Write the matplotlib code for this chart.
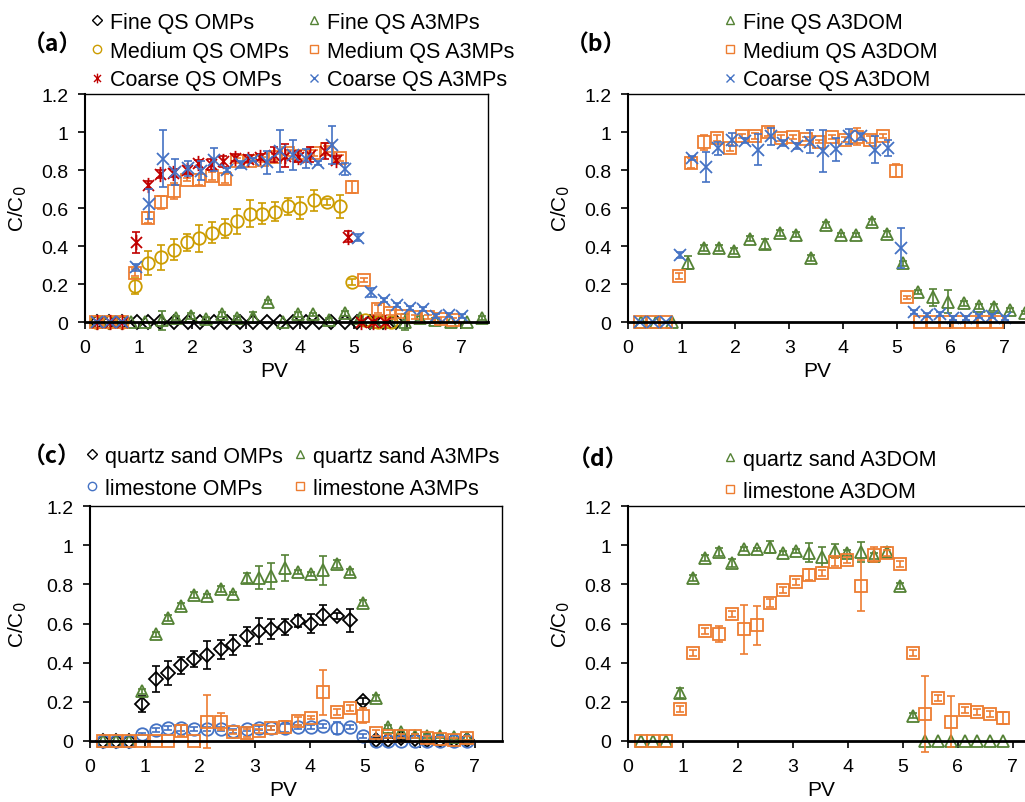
import numpy as np
import matplotlib
matplotlib.use("Agg")
import matplotlib.pyplot as plt
from matplotlib.path import Path
from matplotlib.lines import Line2D

plt.rcParams['font.family'] = ['Liberation Sans', 'DejaVu Sans']

# ---------------- panel (a) ----------------
fine_omps_x = [0.22, 0.45, 0.68, 0.96, 1.18, 1.40, 1.66, 1.92, 2.14, 2.40, 2.64, 2.88,
               3.12, 3.38, 3.62, 3.88, 4.11, 4.35, 4.58, 4.83, 5.07, 5.31, 5.55, 5.79]
fine_omps_y = [0, 0, 0, 0, 0, 0, 0, 0, 0, 0, 0, 0, 0, 0, 0, 0, 0, 0, 0, 0, 0, 0, 0, 0]
fine_omps_e = [0, 0, 0, 0, 0, 0, 0, 0, 0, 0, 0, 0, 0, 0, 0, 0, 0, 0, 0, 0, 0, 0, 0, 0]

fine_a3mps_x = [0.28, 0.56, 0.85, 1.12, 1.43, 1.70, 1.98, 2.26, 2.55, 2.83, 3.12, 3.41, 3.68,
                3.97, 4.25, 4.55, 4.83, 5.11, 5.39, 5.67, 5.95, 6.23, 6.51, 6.82, 7.10, 7.38]
fine_a3mps_y = [0, 0, 0, 0, 0.01, 0.02, 0.03, 0.015, 0.04, 0.02, 0.025, 0.105, 0.0,
                0.04, 0.04, 0.01, 0.045, 0.02, 0, 0, 0, 0.02, 0.01, 0, 0, 0.02]
fine_a3mps_e = [0, 0, 0, 0, 0.05, 0.01, 0.015, 0.01, 0.015, 0.01, 0.03, 0.01, 0,
                0.015, 0.01, 0.01, 0.015, 0.01, 0, 0, 0.04, 0.01, 0.01, 0, 0, 0.01]

medium_omps_x = [0.21, 0.45, 0.69, 0.93, 1.17, 1.41, 1.65, 1.89, 2.13, 2.37, 2.60, 2.83,
                 3.07, 3.30, 3.54, 3.78, 4.01, 4.26, 4.50, 4.74, 4.97, 5.21, 5.45, 5.69]
medium_omps_y = [0, 0, 0, 0.19, 0.31, 0.34, 0.38, 0.42, 0.44, 0.47, 0.49, 0.53,
                 0.57, 0.57, 0.58, 0.61, 0.60, 0.64, 0.63, 0.61, 0.21, 0.01, 0, 0]
medium_omps_e = [0, 0, 0, 0.04, 0.065, 0.065, 0.055, 0.045, 0.07, 0.055, 0.05, 0.065,
                 0.07, 0.055, 0.05, 0.045, 0.06, 0.055, 0.015, 0.06, 0.015, 0, 0, 0]

medium_a3mps_x = [0.21, 0.45, 0.69, 0.93, 1.17, 1.41, 1.65, 1.89, 2.13, 2.37, 2.60, 2.83, 3.07,
                  3.30, 3.54, 3.78, 4.01, 4.26, 4.50, 4.74, 4.97, 5.20, 5.45, 5.67, 5.89,
                  6.15, 6.39, 6.62, 6.85]
medium_a3mps_y = [0, 0, 0, 0.26, 0.55, 0.63, 0.69, 0.75, 0.75, 0.77, 0.755, 0.85, 0.85,
                  0.855, 0.87, 0.89, 0.875, 0.89, 0.91, 0.865, 0.71, 0.22, 0.07, 0.05, 0.03,
                  0.025, 0.025, 0.016, 0.012]
medium_a3mps_e = [0, 0, 0, 0.02, 0.03, 0.035, 0.04, 0.01, 0.03, 0.02, 0.025, 0.015, 0.015,
                  0.015, 0.015, 0.015, 0.015, 0.015, 0.015, 0.015, 0.03, 0.01, 0.02, 0.015, 0.01,
                  0.01, 0.01, 0.01, 0.01]

coarse_omps_x = [0.22, 0.46, 0.69, 0.95, 1.17, 1.40, 1.64, 1.89, 2.11, 2.34, 2.57, 2.79,
                 3.04, 3.26, 3.52, 3.73, 3.96, 4.19, 4.46, 4.67, 4.89, 5.14, 5.36, 5.58]
coarse_omps_y = [0, 0, 0, 0.42, 0.72, 0.78, 0.785, 0.80, 0.835, 0.83, 0.845, 0.865,
                 0.86, 0.87, 0.88, 0.875, 0.87, 0.88, 0.90, 0.855, 0.45, 0, 0, 0]
coarse_omps_e = [0, 0, 0, 0.055, 0.02, 0.02, 0.02, 0.02, 0.02, 0.03, 0.03, 0.02,
                 0.02, 0.015, 0.04, 0.06, 0.03, 0.04, 0.04, 0.02, 0.03, 0, 0, 0]

coarse_a3mps_x = [0.22, 0.46, 0.69, 0.95, 1.20, 1.45, 1.68, 1.92, 2.15, 2.41, 2.65, 2.90, 3.13,
                  3.38, 3.63, 3.88, 4.11, 4.34, 4.59, 4.84, 5.08, 5.32, 5.56, 5.81, 6.04,
                  6.29, 6.53, 6.78, 7.01]
coarse_a3mps_y = [0, 0, 0, 0.287, 0.62, 0.86, 0.79, 0.81, 0.795, 0.855, 0.80, 0.83, 0.855,
                  0.84, 0.90, 0.88, 0.86, 0.835, 0.93, 0.805, 0.444, 0.156, 0.117, 0.09, 0.072,
                  0.068, 0.033, 0.037, 0.03]
coarse_a3mps_e = [0, 0, 0, 0.02, 0.08, 0.15, 0.07, 0.04, 0.05, 0.06, 0.01, 0.02, 0.01,
                  0.06, 0.11, 0.08, 0.05, 0.01, 0.10, 0.03, 0.02, 0.025, 0.01, 0.01, 0.01,
                  0.01, 0.01, 0.01, 0.01]

# ---------------- panel (b) ----------------
fine_a3dom_x = [0.25, 0.53, 0.81, 1.12, 1.42, 1.70, 1.98, 2.27, 2.55, 2.83, 3.12, 3.41, 3.69,
                3.97, 4.25, 4.54, 4.82, 5.11, 5.40, 5.68, 5.96, 6.25, 6.53, 6.82, 7.11, 7.38]
fine_a3dom_y = [0, 0, 0, 0.313, 0.39, 0.39, 0.374, 0.439, 0.41, 0.467, 0.46, 0.336, 0.51,
                0.458, 0.46, 0.528, 0.465, 0.308, 0.159, 0.129, 0.107, 0.098, 0.082, 0.077,
                0.063, 0.05]
fine_a3dom_e = [0, 0, 0, 0.035, 0.015, 0.015, 0.015, 0.015, 0.025, 0.015, 0.015, 0.015, 0.015,
                0.01, 0.01, 0.015, 0.015, 0.015, 0.01, 0.045, 0.06, 0.015, 0.015, 0.02, 0.01, 0.01]

medium_a3dom_x = [0.22, 0.46, 0.70, 0.94, 1.17, 1.42, 1.65, 1.89, 2.13, 2.37, 2.60, 2.84, 3.08,
                  3.32, 3.56, 3.80, 4.03, 4.26, 4.50, 4.74, 4.98, 5.20, 5.44, 5.68, 5.92,
                  6.16, 6.39, 6.62, 6.87]
medium_a3dom_y = [0, 0, 0, 0.243, 0.837, 0.946, 0.969, 0.916, 0.977, 0.98, 1.0, 0.969, 0.974,
                  0.963, 0.95, 0.974, 0.96, 0.974, 0.96, 0.98, 0.797, 0.129, 0.002, 0, 0,
                  0, 0, 0, 0]
medium_a3dom_e = [0, 0, 0, 0.015, 0.025, 0.04, 0.015, 0.015, 0.01, 0.015, 0.02, 0.015, 0.01,
                  0.01, 0.01, 0.01, 0.015, 0.045, 0.02, 0.01, 0.035, 0.01, 0, 0, 0,
                  0, 0, 0, 0]

coarse_a3dom_x = [0.22, 0.46, 0.70, 0.96, 1.20, 1.45, 1.68, 1.93, 2.17, 2.42, 2.66, 2.89, 3.14,
                  3.38, 3.63, 3.88, 4.11, 4.34, 4.59, 4.83, 5.08, 5.32, 5.57, 5.80, 6.05,
                  6.29, 6.53, 6.78, 7.01]
coarse_a3dom_y = [0, 0, 0, 0.353, 0.862, 0.816, 0.914, 0.96, 0.955, 0.907, 0.977, 0.942, 0.928,
                  0.95, 0.90, 0.91, 0.977, 0.977, 0.907, 0.916, 0.39, 0.054, 0.037, 0.042, 0.019,
                  0.019, 0.03, 0.03, 0.019]
coarse_a3dom_e = [0, 0, 0, 0.015, 0.01, 0.08, 0.035, 0.035, 0.015, 0.08, 0.045, 0.015, 0.015,
                  0.06, 0.11, 0.06, 0.04, 0.02, 0.07, 0.04, 0.105, 0.01, 0.01, 0.01, 0.01,
                  0.01, 0.01, 0.01, 0.01]

# ---------------- panel (c) ----------------
pv_c = [0.23, 0.48, 0.71, 0.95, 1.20, 1.42, 1.66, 1.90, 2.13, 2.38, 2.61, 2.85, 3.08, 3.30,
        3.55, 3.78, 4.02, 4.25, 4.49, 4.73, 4.97, 5.20, 5.43, 5.66, 5.91, 6.14, 6.38, 6.62, 6.86]
qs_omps_y = [0, 0, 0, 0.19, 0.317, 0.348, 0.386, 0.42, 0.44, 0.468, 0.49, 0.534, 0.561, 0.573,
             0.582, 0.611, 0.60, 0.642, 0.637, 0.616, 0.206, 0.007, 0.007, 0.014, 0.01, 0.005,
             0.005, 0.005, 0.005]
qs_omps_e = [0, 0, 0, 0.04, 0.065, 0.06, 0.045, 0.04, 0.07, 0.05, 0.05, 0.05, 0.065, 0.05,
             0.04, 0.03, 0.05, 0.05, 0.015, 0.06, 0.015, 0.01, 0.01, 0.01, 0, 0, 0, 0, 0]
qs_a3mps_y = [0, 0, 0, 0.253, 0.544, 0.628, 0.69, 0.744, 0.74, 0.775, 0.753, 0.834, 0.834, 0.843,
              0.884, 0.863, 0.855, 0.872, 0.903, 0.863, 0.706, 0.218, 0.07, 0.044, 0.027, 0.024,
              0.024, 0.019, 0.014]
qs_a3mps_e = [0, 0, 0, 0.015, 0.015, 0.015, 0.015, 0.015, 0.01, 0.015, 0.01, 0.025, 0.06, 0.065,
              0.065, 0.01, 0.01, 0.075, 0.02, 0.015, 0.015, 0.015, 0.01, 0.01, 0.01, 0.01,
              0.01, 0.01, 0.01]
ls_omps_y = [0, 0, 0, 0.036, 0.058, 0.067, 0.067, 0.061, 0.061, 0.061, 0.053, 0.061, 0.067, 0.067,
             0.065, 0.073, 0.07, 0.078, 0.065, 0.07, 0.024, 0, 0, 0, 0, 0.002, 0.002, 0.002, 0]
ls_omps_e = [0, 0, 0, 0.005, 0.01, 0.01, 0.015, 0.01, 0.01, 0.01, 0.01, 0.01, 0.01, 0.01,
             0.02, 0.01, 0.01, 0.01, 0.03, 0.01, 0.01, 0, 0, 0, 0, 0, 0, 0, 0]
ls_a3mps_y = [0, 0, 0, 0, 0, 0, 0.053, 0, 0.099, 0.099, 0.048, 0.039, 0.053, 0.065,
              0.07, 0.104, 0.12, 0.249, 0.147, 0.167, 0.13, 0.039, 0.024, 0.024, 0.024, 0.014,
              0.01, 0.007, 0.014]
ls_a3mps_e = [0, 0, 0, 0, 0, 0, 0.03, 0, 0.135, 0.045, 0.01, 0.02, 0.01, 0.01,
              0.03, 0.02, 0.01, 0.115, 0.015, 0.015, 0.04, 0.015, 0.01, 0.01, 0.01, 0.01,
              0.01, 0.01, 0.01]

# ---------------- panel (d) ----------------
pv_d = [0.23, 0.46, 0.70, 0.95, 1.18, 1.41, 1.66, 1.89, 2.12, 2.35, 2.59, 2.82, 3.06, 3.30,
        3.54, 3.77, 3.99, 4.24, 4.47, 4.71, 4.95, 5.18, 5.41, 5.65, 5.88, 6.13, 6.36, 6.59, 6.83]
qs_a3dom_y = [0, 0, 0, 0.246, 0.833, 0.935, 0.966, 0.911, 0.98, 0.978, 0.991, 0.962, 0.971, 0.962,
              0.94, 0.971, 0.962, 0.966, 0.945, 0.966, 0.792, 0.13, 0, 0, 0, 0, 0, 0, 0]
qs_a3dom_e = [0, 0, 0, 0.025, 0.015, 0.015, 0.02, 0.02, 0.01, 0.01, 0.03, 0.01, 0.01, 0.05,
              0.05, 0.035, 0.015, 0.05, 0.015, 0.025, 0.015, 0.015, 0, 0, 0, 0, 0, 0, 0]
ls_a3dom_y = [0, 0, 0, 0.164, 0.45, 0.561, 0.548, 0.65, 0.57, 0.59, 0.705, 0.773, 0.812, 0.85,
              0.86, 0.915, 0.923, 0.792, 0.952, 0.96, 0.906, 0.45, 0.138, 0.218, 0.099, 0.16,
              0.147, 0.138, 0.116]
ls_a3dom_e = [0, 0, 0, 0.015, 0.015, 0.015, 0.04, 0.015, 0.125, 0.1, 0.02, 0.015, 0.015, 0.03,
              0.015, 0.02, 0.015, 0.13, 0.04, 0.015, 0.015, 0.015, 0.195, 0.015, 0.13, 0.015,
              0.015, 0.015, 0.03]

BLACK = '#000000'
GREEN = '#548235'
GOLD = '#CC9C00'
ORANGE = '#ED7D31'
RED = '#C00000'
BLUE = '#4472C4'

# excel style asterisk: an x with a vertical bar
STAR = Path([(0, -1), (0, 1), (-0.72, -0.72), (0.72, 0.72), (-0.72, 0.72), (0.72, -0.72)],
            [Path.MOVETO, Path.LINETO, Path.MOVETO, Path.LINETO, Path.MOVETO, Path.LINETO])


def draw(ax, x, y, err, marker, color, ms):
    x = np.asarray(x, float)
    y = np.asarray(y, float)
    err = np.asarray(err, float)
    keep = err > 0
    if keep.any():
        ax.errorbar(x[keep], y[keep], yerr=err[keep], fmt='none', ecolor=color,
                    elinewidth=1.2, capsize=3, capthick=1.2, clip_on=False)
    ax.plot(x, y, linestyle='none', marker=marker, mfc='none', mec=color,
            ms=ms, mew=1.3, clip_on=False)


def style(ax, xmax=7.5):
    ax.set_xlim(0, xmax)
    ax.set_ylim(0, 1.2)
    ax.set_xticks(range(0, 8))
    ax.set_yticks([0, 0.2, 0.4, 0.6, 0.8, 1.0, 1.2])
    ax.set_yticklabels(['0', '0.2', '0.4', '0.6', '0.8', '1', '1.2'])
    ax.tick_params(axis='both', labelsize=14, direction='out', length=5, width=1.2, pad=7)
    ax.spines['bottom'].set_linewidth(2)
    ax.spines['left'].set_linewidth(1.5)
    ax.spines['top'].set_linewidth(1)
    ax.spines['right'].set_linewidth(1)
    ax.set_ylabel('C/C$_0$', fontsize=15)
    ax.set_xlabel('PV', fontsize=15)


def handle(marker, color, ms):
    return Line2D([], [], linestyle='none', marker=marker, mfc='none', mec=color,
                  ms=ms, mew=1.0)


W, H = 1025, 803
fig = plt.figure(figsize=(W / 100, H / 100), dpi=100)


def add_axes(l, r, t, b):
    return fig.add_axes([l / W, 1 - b / H, (r - l) / W, (b - t) / H])


ax_a = add_axes(85, 488, 95, 323)
ax_b = add_axes(628, 1031, 95, 323)
ax_c = add_axes(90, 502, 507, 742)
ax_d = add_axes(628, 1040, 507, 742)

# (a)
draw(ax_a, fine_omps_x, fine_omps_y, fine_omps_e, 'D', BLACK, 7)
draw(ax_a, fine_a3mps_x, fine_a3mps_y, fine_a3mps_e, '^', GREEN, 8.5)
draw(ax_a, medium_omps_x, medium_omps_y, medium_omps_e, 'o', GOLD, 9)
draw(ax_a, medium_a3mps_x, medium_a3mps_y, medium_a3mps_e, 's', ORANGE, 8)
draw(ax_a, coarse_omps_x, coarse_omps_y, coarse_omps_e, STAR, RED, 11)
draw(ax_a, coarse_a3mps_x, coarse_a3mps_y, coarse_a3mps_e, 'x', BLUE, 8.5)

# (b)
draw(ax_b, fine_a3dom_x, fine_a3dom_y, fine_a3dom_e, '^', GREEN, 8.5)
draw(ax_b, medium_a3dom_x, medium_a3dom_y, medium_a3dom_e, 's', ORANGE, 8)
draw(ax_b, coarse_a3dom_x, coarse_a3dom_y, coarse_a3dom_e, 'x', BLUE, 8.5)

# (c)
draw(ax_c, pv_c, qs_omps_y, qs_omps_e, 'D', BLACK, 7)
draw(ax_c, pv_c, qs_a3mps_y, qs_a3mps_e, '^', GREEN, 8.5)
draw(ax_c, pv_c, ls_omps_y, ls_omps_e, 'o', BLUE, 9)
draw(ax_c, pv_c, ls_a3mps_y, ls_a3mps_e, 's', ORANGE, 8)

# (d)
draw(ax_d, pv_d, qs_a3dom_y, qs_a3dom_e, '^', GREEN, 8.5)
draw(ax_d, pv_d, ls_a3dom_y, ls_a3dom_e, 's', ORANGE, 8)

for ax, wpx, lpx, hpx in [(ax_a, 403, 85, 228), (ax_b, 403, 628, 228),
                          (ax_c, 412, 90, 235), (ax_d, 412, 628, 235)]:
    style(ax)
    ax.yaxis.set_label_coords((29 - lpx) / wpx if lpx < 100 else (572 - lpx) / wpx, 0.5)
    ax.xaxis.set_label_coords(0.47, -39 / hpx)


def legend(ax, handles, labels, ncol, x, y, colsp, lsp):
    ax.legend(handles, labels, ncol=ncol, loc='upper left',
              bbox_to_anchor=(x / W, 1 - y / H), bbox_transform=fig.transFigure,
              frameon=False, fontsize=15.5, handlelength=0.6, handletextpad=0.3,
              labelspacing=lsp, columnspacing=colsp, borderpad=0, borderaxespad=0)


legend(ax_a,
       [handle('D', BLACK, 5), handle('o', GOLD, 6), handle(STAR, RED, 7),
        handle('^', GREEN, 6), handle('s', ORANGE, 5.5), handle('x', BLUE, 6)],
       ['Fine QS OMPs', 'Medium QS OMPs', 'Coarse QS OMPs',
        'Fine QS A3MPs', 'Medium QS A3MPs', 'Coarse QS A3MPs'],
       2, 91, 13, 0.85, 0.35)
legend(ax_b,
       [handle('^', GREEN, 6), handle('s', ORANGE, 5.5), handle('x', BLUE, 6)],
       ['Fine QS A3DOM', 'Medium QS A3DOM', 'Coarse QS A3DOM'],
       1, 724, 13, 1.0, 0.35)
legend(ax_c,
       [handle('D', BLACK, 5), handle('o', BLUE, 6),
        handle('^', GREEN, 6), handle('s', ORANGE, 5.5)],
       ['quartz sand OMPs', 'limestone OMPs', 'quartz sand A3MPs', 'limestone A3MPs'],
       2, 86, 447, 0.5, 0.5)
legend(ax_d,
       [handle('^', GREEN, 6), handle('s', ORANGE, 5.5)],
       ['quartz sand A3DOM', 'limestone A3DOM'],
       1, 724, 450, 1.0, 0.5)

lab_font = dict(family=['Noto Sans CJK SC', 'DejaVu Sans'], fontsize=16.5, fontweight='bold',
                ha='center', va='center')
fig.text(52 / W, 1 - 45 / H, '（a）', **lab_font)
fig.text(596 / W, 1 - 45 / H, '（b）', **lab_font)
fig.text(52 / W, 1 - 457 / H, '（c）', **lab_font)
fig.text(598 / W, 1 - 460 / H, '（d）', **lab_font)

fig.savefig('out.png', dpi=100)
